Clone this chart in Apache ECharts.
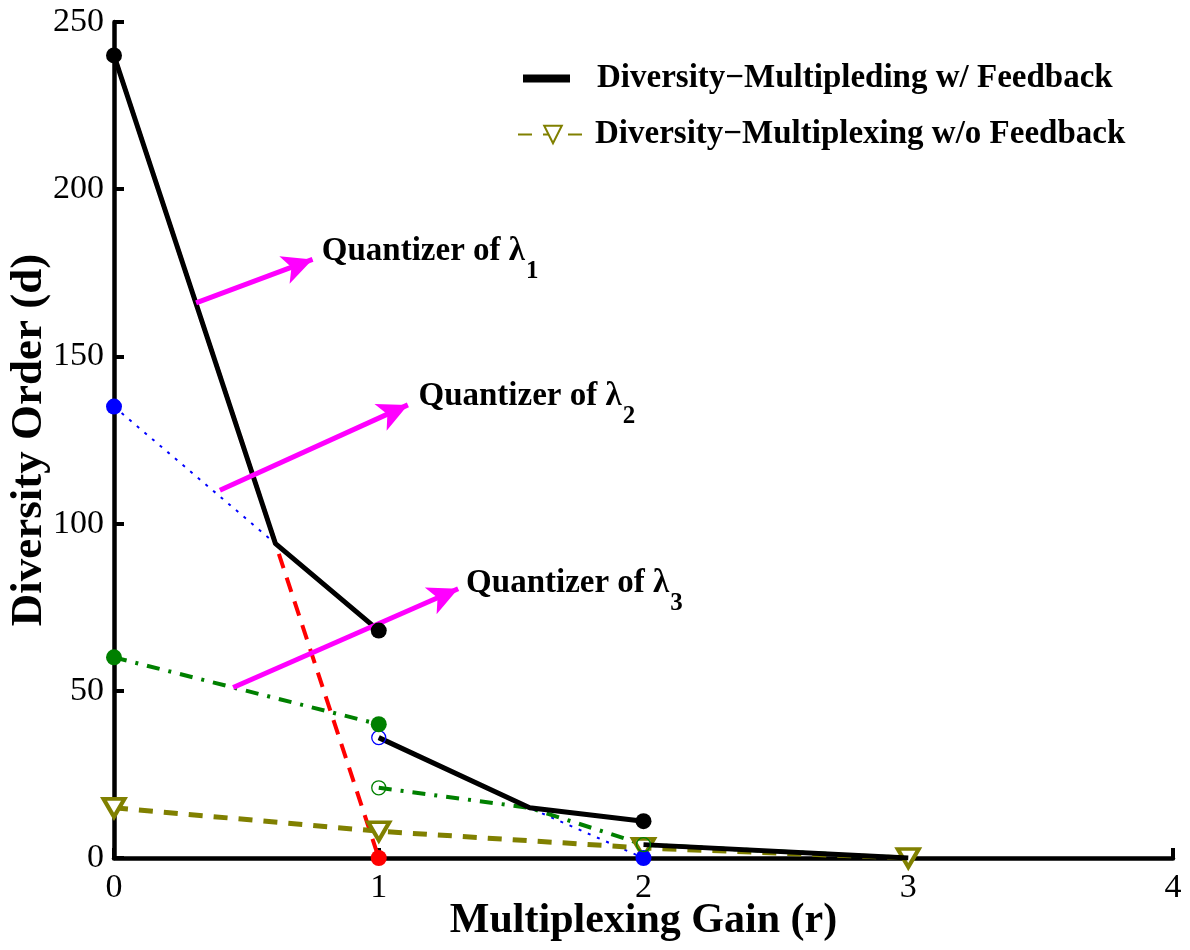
<!DOCTYPE html>
<html><head><meta charset="utf-8">
<script src="https://cdn.jsdelivr.net/npm/echarts@6/dist/echarts.min.js"></script>
<style>html,body{margin:0;padding:0;background:#fff}#c{width:1190px;height:950px}</style>
</head><body><div id="c"></div>
<script>
const FONT = "'Liberation Serif','Times New Roman',serif";
const nameWith = 'Diversity\u2212Multipleding w/ Feedback';
const nameWithout = 'Diversity\u2212Multiplexing w/o Feedback';

const xMin = 0, xMax = 4, xStep = 1;
const yMin = 0, yMax = 250, yStep = 50;

const withFb1 = [[0,240],[0.61,94],[1,68]];
const withFb2 = [[1,36],[1.57,15],[2,11]];
const withFb3 = [[2,4],[3,0]];
const withFbDots = [[0,240],[1,68],[2,11]];
const withoutFb = [[0,15],[1,8],[2,3],[3,0]];
const q1Line = [[0,240],[0.61,94],[1,0]];
const q1Dots = [[1,0]];
const q2Line1 = [[0,135],[0.61,94]];
const q2Line2 = [[1,36],[1.57,15],[2,0]];
const q2Dots = [[0,135],[2,0]];
const q2Open = [[1,36]];
const q3Line1 = [[0,60],[1,40]];
const q3Line2 = [[1,21],[1.57,15],[2,4],[3,0]];
const q3Dots = [[0,60],[1,40]];
const q3Open = [[1,21],[2,4]];
const arrowFrom = [[0.31,166],[0.40,110],[0.45,51]];
const arrowTo = [[0.75,179],[1.11,135.5],[1.30,80.5]];
const labelAt = [[0.785,181],[1.15,137.5],[1.33,81.5]];
const labelIdx = ['1','2','3'];

const RED = '#ff0000', BLUE = '#0000ff', GREEN = '#008000', OLIVE = '#808000', MAG = '#ff00ff';

function line(name, data, color, width, type, z) {
  return { name, type: 'line', data, symbol: 'none', z: z || 2, silent: true,
    lineStyle: { color, width, type, opacity: 1 }, itemStyle: { color, opacity: 1 }, animation: false };
}
function dots(data, color, open) {
  return { type: 'scatter', data, symbol: 'circle', symbolSize: open ? 14 : 16, z: 10, silent: true,
    itemStyle: open ? { color: 'rgba(0,0,0,0)', borderColor: color, borderWidth: 1.3, opacity: 1 } : { color, opacity: 1 },
    animation: false };
}

const series = [
  line('q1', q1Line, RED, 4, [15, 10], 2),
  line('q2a', q2Line1, BLUE, 2, [3, 7], 2),
  line('q2b', q2Line2, BLUE, 2, [3, 7], 2),
  line('q3a', q3Line1, GREEN, 4, [13, 9, 3, 9], 2),
  line('q3b', q3Line2, GREEN, 4, [13, 9, 3, 9], 2),
  {
    name: nameWithout, type: 'line', data: withoutFb, z: 3, silent: true, animation: false,
    symbol: 'triangle', symbolRotate: 180, symbolSize: [21, 18],
    lineStyle: { color: OLIVE, width: 5, type: [14, 11] },
    itemStyle: { color: '#fff', borderColor: OLIVE, borderWidth: 4, opacity: 1 }
  },
  line(nameWith, withFb1, '#000', 5, 'solid', 4),
  line(nameWith, withFb2, '#000', 5, 'solid', 4),
  line(nameWith, withFb3, '#000', 5, 'solid', 4),
  dots(withFbDots, '#000', false),
  dots(q1Dots, RED, false),
  dots(q2Dots, BLUE, false),
  dots(q2Open, BLUE, true),
  dots(q3Dots, GREEN, false),
  dots(q3Open, GREEN, true),
  {
    type: 'line', data: [], silent: true, animation: false, z: 6,
    markLine: {
      silent: true, animation: false,
      symbol: ['none', 'arrow'], symbolSize: [22, 30],
      lineStyle: { color: MAG, width: 5, type: 'solid', opacity: 1 },
      itemStyle: { color: MAG },
      label: { show: false },
      data: arrowFrom.map((p, i) => [{ coord: p }, { coord: arrowTo[i] }])
    }
  },
  {
    type: 'scatter', silent: true, animation: false, z: 7, symbolSize: 0,
    itemStyle: { opacity: 1 },
    data: labelAt.map((p, i) => ({ value: p, idx: labelIdx[i] })),
    label: {
      show: true, position: 'right', distance: 0, color: '#000', opacity: 1,
      formatter: p => '{a|Quantizer of \u03bb}{s|' + p.data.idx + '}',
      rich: {
        a: { fontFamily: FONT, fontWeight: 'bold', fontSize: 33, color: '#000', lineHeight: 36, verticalAlign: 'top' },
        s: { fontFamily: FONT, fontWeight: 'bold', fontSize: 25, color: '#000', lineHeight: 25, padding: [24, 0, 0, 1], verticalAlign: 'top' }
      }
    }
  }
];

const legendText = { fontFamily: FONT, fontWeight: 'bold', fontSize: 33, color: '#000', padding: [0, 0, 0, 22] };

const chart = echarts.init(document.getElementById('c'), null, { renderer: 'canvas' });
chart.setOption({
  backgroundColor: '#fff',
  animation: false,
  grid: { left: 114, right: 17, top: 22, bottom: 92, outerBoundsMode: 'none', containLabel: false },
  legend: [
    {
      data: [{ name: nameWith, icon: 'rect' }],
      left: 518, top: 57, itemWidth: 47, itemHeight: 8,
      selectedMode: false, textStyle: legendText
    },
    {
      data: [{ name: nameWithout }],
      left: 512, top: 113, itemWidth: 70, itemHeight: 22,
      selectedMode: false, textStyle: Object.assign({}, legendText, { padding: [0, 0, 0, 2] })
    }
  ],
  xAxis: {
    type: 'value', min: xMin, max: xMax, interval: xStep,
    name: 'Multiplexing Gain (r)', nameLocation: 'middle', nameGap: 42, nameMoveOverlap: false,
    nameTextStyle: { fontFamily: FONT, fontWeight: 'bold', fontSize: 42, color: '#000' },
    axisLine: { lineStyle: { color: '#000', width: 4.5 } },
    axisTick: { inside: true, length: 10, lineStyle: { color: '#000', width: 4 } },
    axisLabel: { fontFamily: FONT, fontSize: 34, color: '#000', margin: 13 },
    splitLine: { show: false }
  },
  yAxis: {
    type: 'value', min: yMin, max: yMax, interval: yStep,
    name: 'Diversity Order (d)', nameLocation: 'middle', nameGap: 62, nameMoveOverlap: false,
    nameTextStyle: { fontFamily: FONT, fontWeight: 'bold', fontSize: 45, color: '#000' },
    axisLine: { lineStyle: { color: '#000', width: 4.5 } },
    axisTick: { inside: true, length: 10, lineStyle: { color: '#000', width: 4 } },
    axisLabel: { fontFamily: FONT, fontSize: 34, color: '#000', margin: 10 },
    splitLine: { show: false }
  },
  series
});
</script></body></html>
